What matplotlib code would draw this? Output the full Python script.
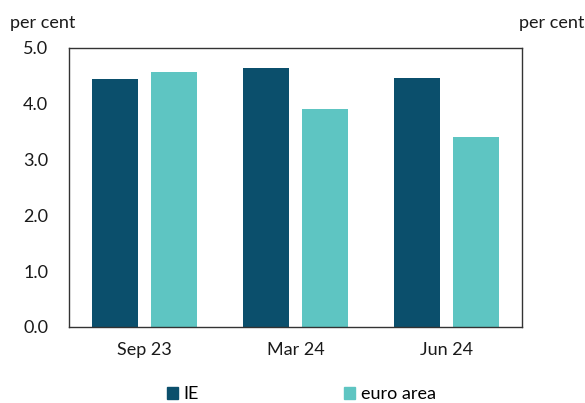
import numpy as np
import matplotlib.pyplot as plt
from matplotlib.patches import Patch

plt.rcParams['font.family'] = ['Lato', 'DejaVu Sans']

periods = ["Sep 23", "Mar 24", "Jun 24"]
ie_values = [4.45, 4.64, 4.46]
euro_values = [4.56, 3.90, 3.40]
y_ticks = [0.0, 1.0, 2.0, 3.0, 4.0, 5.0]

ie_color = "#0b4f6c"
euro_color = "#5ec5c2"

fig = plt.figure(figsize=(5.85, 4.03), dpi=100)
ax = fig.add_axes([0.118, 0.189, 0.774, 0.692])

x = np.arange(len(periods))
w = 0.305
ax.bar(x - 0.195, ie_values, width=w, color=ie_color)
ax.bar(x + 0.195, euro_values, width=w, color=euro_color)

ax.set_xlim(-0.5, 2.5)
ax.set_ylim(0, 5)
ax.set_yticks(y_ticks)
ax.set_yticklabels([f"{v:.1f}" for v in y_ticks])
ax.set_xticks(x)
ax.set_xticklabels(periods)
ax.tick_params(axis='both', length=0, labelsize=13, colors='#1a1a1a')
ax.tick_params(axis='y', pad=15)
ax.tick_params(axis='x', pad=11)
for s in ax.spines.values():
    s.set_color('#333333')
    s.set_linewidth(1.0)

fig.text(10 / 585, 1 - 23 / 403, "per cent", fontsize=13, va='center', ha='left', color='#1a1a1a')
fig.text(584 / 585, 1 - 23 / 403, "per cent", fontsize=13, va='center', ha='right', color='#1a1a1a')

handles = [Patch(color=ie_color, label="IE"), Patch(color=euro_color, label="euro area")]
fig.legend(handles=handles, loc='center', bbox_to_anchor=(0.515, 1 - 394 / 403), ncol=2,
           frameon=False, fontsize=13, handlelength=0.65, handleheight=0.65,
           handletextpad=0.3, columnspacing=8.0)

fig.savefig("out.png", dpi=100)
